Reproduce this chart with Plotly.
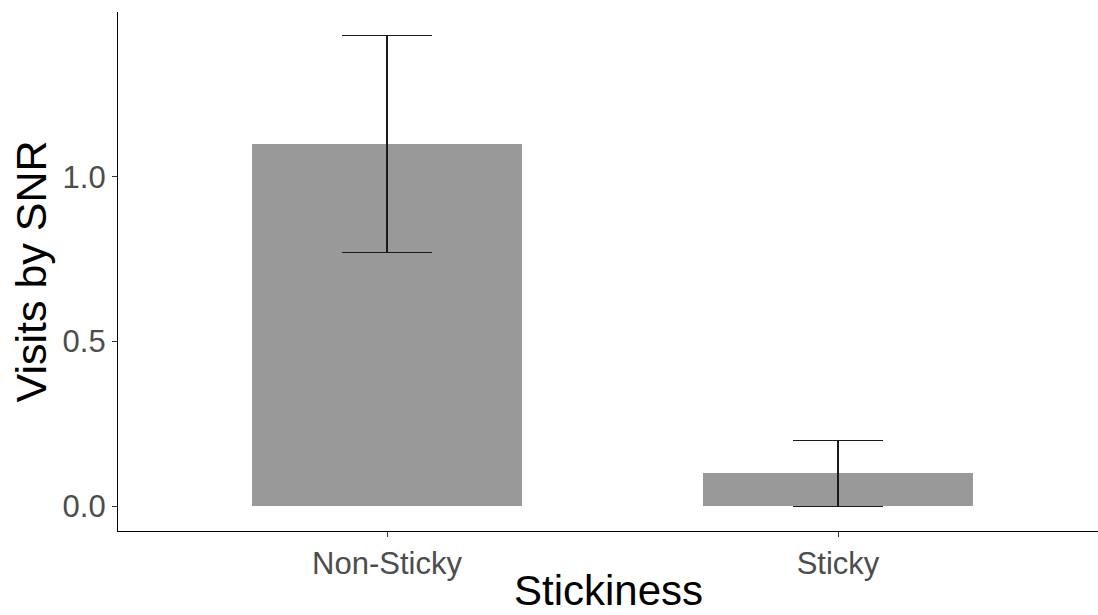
import plotly.graph_objects as go

# Mean visits by SNR per stickiness group, with standard errors
categories = ["Non-Sticky", "Sticky"]
mean_visits = [1.1, 0.1]
std_error = [0.329, 0.1]
y_ticks = [0.0, 0.5, 1.0]
y_tick_text = ["0.0", "0.5", "1.0"]

FONT = "Liberation Sans, Arial, sans-serif"

fig = go.Figure()
fig.add_trace(go.Bar(
    x=[0, 1],
    y=mean_visits,
    width=0.6,
    marker=dict(color="#999999", line=dict(width=0)),
    error_y=dict(type="data", array=std_error, visible=True,
                 color="#1a1a1a", thickness=1.5, width=45),
    showlegend=False,
))

fig.update_layout(
    width=1098, height=615,
    margin=dict(l=118, r=0, t=12, b=84),
    paper_bgcolor="white", plot_bgcolor="white",
    font=dict(family=FONT),
    bargap=0,
    xaxis=dict(
        range=[-0.5965, 1.5765],
        tickmode="array", tickvals=[0, 1], ticktext=categories,
        showgrid=False, zeroline=False,
        showline=True, linecolor="black", linewidth=1.2,
        ticks="outside", ticklen=5, tickcolor="#333333", tickwidth=1.1,
        ticklabelstandoff=0,
        tickfont=dict(size=31, color="#4D4D4D", family=FONT),
    ),
    yaxis=dict(
        range=[-0.0746, 1.5002],
        tickmode="array", tickvals=y_ticks, ticktext=y_tick_text,
        showgrid=False, zeroline=False,
        showline=True, linecolor="black", linewidth=1.2,
        ticks="outside", ticklen=5, tickcolor="#333333", tickwidth=1.1,
        tickfont=dict(size=31, color="#4D4D4D", family=FONT),
    ),
    annotations=[
        dict(text="Stickiness", xref="paper", yref="paper", x=0.5, y=0,
             xanchor="center", yanchor="bottom", yshift=-84, borderpad=0,
             showarrow=False,
             font=dict(size=42, color="black", family=FONT)),
        dict(text="Visits by SNR", xref="paper", yref="paper", x=0, y=0.5,
             xanchor="center", yanchor="middle", xshift=-88, textangle=-90,
             showarrow=False, font=dict(size=43, color="black", family=FONT)),
    ],
)

fig.write_html("out.html")
